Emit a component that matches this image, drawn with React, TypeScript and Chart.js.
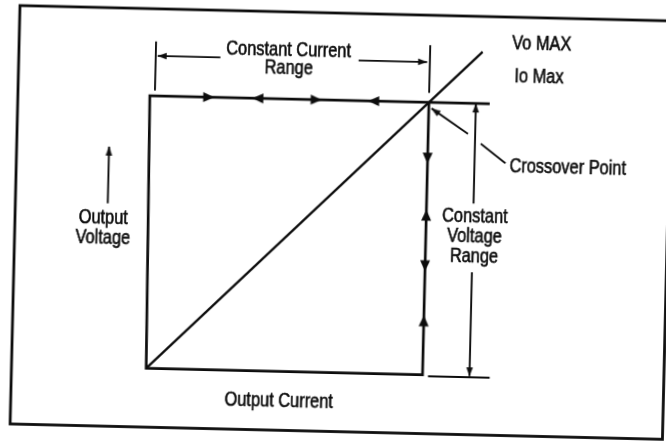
import React, { useEffect, useRef } from "react";
import { Chart, registerables } from "chart.js";

Chart.register(...registerables);

// Normalised operating diagram of a CV / CC supply: Io max = 1, Vo max = 1
// Load boundary: top (constant current limit), left axis, bottom axis, crossover vertical
const LOAD_X = [1.22, -0.01, 0, 1, 1];
const LOAD_Y = [1, 1, 0, 0, 1];
// Resistive load line through the crossover point
const RESISTIVE_X = [0, 1.19];
const RESISTIVE_Y = [0, 1.19];
// Direction arrows along the boundary (rotation: 0 = up, 90 = right ...)
const FLOW_X = [0.203, 0.381, 0.592, 0.8, 1, 1, 1, 1];
const FLOW_Y = [1, 1, 1, 1, 0.795, 0.586, 0.4, 0.198];
const FLOW_ANGLE = [90, 270, 90, 270, 180, 0, 180, 0];
// Dimension / leader segments
const GUIDE_X1 = [0.008, 1.0, 0.015, 0.742, 1.17, 1.17, 1.02, -0.153, 1.144, 1.191];
const GUIDE_Y1 = [1.02, 1.035, 1.147, 1.148, 1.0, 0.38, -0.005, 0.602, 0.888, 0.853];
const GUIDE_X2 = [0.008, 1.0, 0.242, 0.99, 1.17, 1.17, 1.243, -0.153, 1.01, 1.282];
const GUIDE_Y2 = [1.2, 1.21, 1.147, 1.148, 0.633, 0.0, -0.005, 0.81, 0.978, 0.783];
// Arrow tips of the dimension lines
const TIP_X = [0.015, 0.99, 1.17, 1.17, -0.153, 1.01];
const TIP_Y = [1.147, 1.148, 1.0, -0.002, 0.81, 0.978];
const TIP_ANGLE = [270, 90, 0, 180, 0, 304];
// Labels
const LABELS = ["Constant Current", "Range", "Vo MAX", "Io Max", "Crossover Point", "Constant", "Voltage", "Range", "Output", "Voltage", "Output Current"];
const LABEL_X = [0.488, 0.49, 1.296, 1.307, 1.297, 1.176, 1.176, 1.176, -0.168, -0.168, 0.482];
const LABEL_Y = [1.178, 1.113, 1.224, 1.1, 0.769, 0.585, 0.51, 0.436, 0.548, 0.472, -0.109];
const LABEL_ALIGN = ["center", "center", "left", "left", "left", "center", "center", "center", "center", "center", "center"];

const W = 686;
const H = 461;

function makeArrow(len: number, halfW: number, tipAtCenter: boolean) {
  const size = Math.ceil(2 * Math.max(len, halfW) + 4);
  const c = document.createElement("canvas");
  c.width = size;
  c.height = size;
  const g = c.getContext("2d")!;
  const cx = size / 2;
  const tipY = tipAtCenter ? size / 2 : size / 2 - len / 2;
  g.fillStyle = "#0d0d0d";
  g.beginPath();
  g.moveTo(cx, tipY);
  g.lineTo(cx + halfW, tipY + len);
  g.lineTo(cx - halfW, tipY + len);
  g.closePath();
  g.fill();
  return c;
}

const pts = (xs: number[], ys: number[]) => xs.map((x, i) => ({ x, y: ys[i] }));

export default function App() {
  const ref = useRef<HTMLCanvasElement | null>(null);

  useEffect(() => {
    if (!ref.current) return;
    const flowArrow = makeArrow(11, 5, false);
    const dimArrow = makeArrow(9, 3.3, true);

    const guideSets = GUIDE_X1.map((x1, i) => ({
      data: [
        { x: x1, y: GUIDE_Y1[i] },
        { x: GUIDE_X2[i], y: GUIDE_Y2[i] },
      ],
      showLine: true,
      borderColor: "#0d0d0d",
      borderWidth: 1.9,
      pointRadius: 0,
    }));

    const decor = {
      id: "decor",
      afterDraw(chart: any) {
        const ctx = chart.ctx as CanvasRenderingContext2D;
        const xs = chart.scales.x;
        const ys = chart.scales.y;
        ctx.save();
        // outer frame
        ctx.strokeStyle = "#0d0d0d";
        ctx.lineWidth = 2.8;
        ctx.strokeRect(25, 23, 652.5, 418.5);
        // labels
        ctx.fillStyle = "#0d0d0d";
        ctx.strokeStyle = "#0d0d0d";
        ctx.lineWidth = 0.6;
        ctx.font = '19.5px "Liberation Sans", Arial, sans-serif';
        ctx.textBaseline = "middle";
        const sx = 0.84;
        LABELS.forEach((t, i) => {
          const px = xs.getPixelForValue(LABEL_X[i]);
          const py = ys.getPixelForValue(LABEL_Y[i]);
          ctx.save();
          ctx.translate(px, py);
          ctx.scale(sx, 1);
          ctx.textAlign = LABEL_ALIGN[i] as CanvasTextAlign;
          ctx.fillText(t, 0, 0);
          ctx.strokeText(t, 0, 0);
          ctx.restore();
        });
        ctx.restore();
      },
    };

    const chart = new Chart(ref.current, {
      type: "scatter",
      data: {
        datasets: [
          {
            data: pts(LOAD_X, LOAD_Y),
            showLine: true,
            borderColor: "#0d0d0d",
            borderWidth: 2.7,
            pointRadius: 0,
            borderJoinStyle: "miter",
          },
          {
            data: pts(RESISTIVE_X, RESISTIVE_Y),
            showLine: true,
            borderColor: "#0d0d0d",
            borderWidth: 2.3,
            pointRadius: 0,
          },
          ...guideSets,
          {
            data: pts(FLOW_X, FLOW_Y),
            showLine: false,
            pointStyle: flowArrow as any,
            pointRadius: 3,
            rotation: FLOW_ANGLE as any,
          },
          {
            data: pts(TIP_X, TIP_Y),
            showLine: false,
            pointStyle: dimArrow as any,
            pointRadius: 3,
            rotation: TIP_ANGLE as any,
          },
        ] as any,
      },
      options: {
        responsive: false,
        maintainAspectRatio: false,
        animation: false,
        layout: { padding: 0 },
        plugins: { legend: { display: false }, tooltip: { enabled: false } },
        elements: { line: { tension: 0 } },
        scales: {
          x: { type: "linear", display: false, min: -0.5597, max: 1.8859 },
          y: { type: "linear", display: false, min: -0.2693, max: 1.386 },
        },
      },
      plugins: [decor],
    });
    return () => chart.destroy();
  }, []);

  return (
    <div
      style={{
        position: "fixed",
        left: 0,
        top: 0,
        width: 666,
        height: 441,
        overflow: "hidden",
        background: "#fff",
      }}
    >
      <canvas
        ref={ref}
        width={W}
        height={H}
        style={{
          position: "absolute",
          left: -10,
          top: -10,
          width: W,
          height: H,
          transform: "rotate(1.35deg)",
          transformOrigin: "50% 50%",
        }}
      />
    </div>
  );
}
